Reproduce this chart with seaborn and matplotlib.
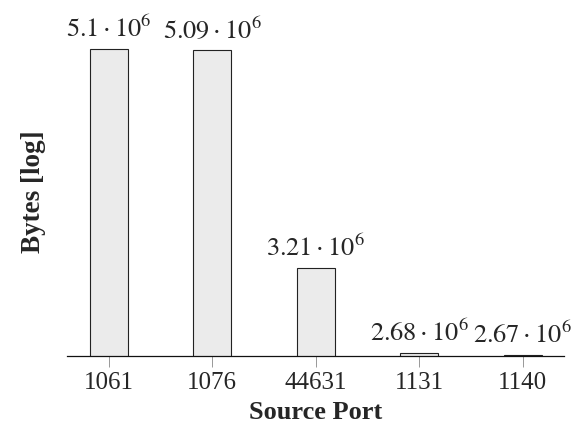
import matplotlib
matplotlib.use("Agg")
import matplotlib.pyplot as plt
import seaborn as sns
import pandas as pd

ports = ["1061", "1076", "44631", "1131", "1140"]
byte_counts = [5.10e6, 5.09e6, 3.21e6, 2.68e6, 2.67e6]

sns.set_theme(style="white")
plt.rcParams["font.family"] = ["Liberation Serif", "DejaVu Serif"]
plt.rcParams["mathtext.fontset"] = "stix"

df = pd.DataFrame({"port": ports, "bytes": byte_counts})

W, H = 581, 437
fig = plt.figure(figsize=(W / 100, H / 100), dpi=100)
left, right, top, bottom = 67, 564, 28, 355.7
ax = fig.add_axes([left / W, 1 - bottom / H, (right - left) / W, (bottom - top) / H])
ax.set_yscale("log")

sns.barplot(data=df, x="port", y="bytes", order=ports, ax=ax,
            color="#ebebeb", edgecolor="#222222", linewidth=0.8,
            width=0.367, saturation=1)

ax.set_xlim(-0.405, 4.4)
ax.set_ylim(2.6669e6, 5.332e6)

for i, v in enumerate(byte_counts):
    ax.annotate(rf"${v / 1e6:g}\cdot10^{{6}}$", (i, v),
                xytext=(0, 5), textcoords="offset points",
                ha="center", va="bottom", fontsize=19)

for side in ["top", "right", "left"]:
    ax.spines[side].set_visible(False)
ax.spines["bottom"].set_color("#111111")
ax.spines["bottom"].set_linewidth(0.9)

ax.set_yticks([])
ax.yaxis.set_minor_locator(matplotlib.ticker.NullLocator())
ax.tick_params(axis="x", direction="out", length=8, width=0.6,
               color="#888888", labelsize=18, pad=4, bottom=True)
ax.set_xlabel("Source Port", fontsize=19, fontweight="bold", labelpad=5)
ax.set_ylabel("Bytes [log]", fontsize=19.5, fontweight="bold", labelpad=15)

fig.savefig("out.png", dpi=100)
